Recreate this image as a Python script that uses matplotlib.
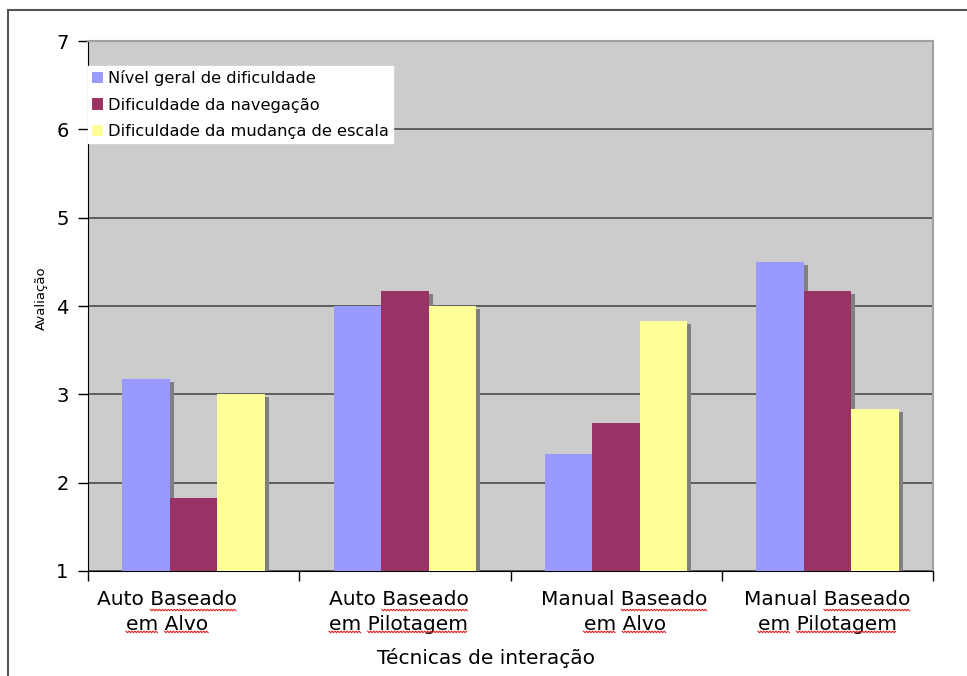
import matplotlib
matplotlib.use('Agg')
import matplotlib.pyplot as plt
from matplotlib.patches import Rectangle, Patch
from matplotlib.lines import Line2D
import numpy as np

categories = ['Auto Baseado\nem Alvo', 'Auto Baseado\nem Pilotagem',
              'Manual Baseado\nem Alvo', 'Manual Baseado\nem Pilotagem']
series_names = ['Nível geral de dificuldade', 'Dificuldade da navegação',
                'Dificuldade da mudança de escala']
nivel_geral = [3.17, 4.0, 2.33, 4.5]
navegacao = [1.83, 4.17, 2.67, 4.17]
mudanca_escala = [3.0, 4.0, 3.83, 2.83]
colors = ['#9999ff', '#993366', '#ffff99']

# words that get the red spell-check squiggle
squiggle_words = ['Baseado', 'em', 'Alvo', 'Pilotagem']

plt.rcParams['font.family'] = 'DejaVu Sans'

fig = plt.figure(figsize=(9.67, 6.76), dpi=100)
ax = fig.add_axes([88/967, 1 - 571/676, 845/967, 530/676])
ax.set_facecolor('#cccccc')

# outer frame of the chart area
fig.patches.append(Rectangle((8/967, -0.05), 1.1, 0.05 + 1 - 10/676, transform=fig.transFigure,
                             fill=False, edgecolor='#555555', linewidth=1.5, clip_on=False))

x = np.arange(len(categories))
w = 0.225
dx = 4/211
dy = 3/88.3
all_vals = [nivel_geral, navegacao, mudanca_escala]

# shadows first
for i, vals in enumerate(all_vals):
    v = np.array(vals)
    ax.bar(x + (i - 1)*w + dx, v - 1 - dy, w, bottom=1, color='#808080', zorder=2)
for i, vals in enumerate(all_vals):
    v = np.array(vals)
    ax.bar(x + (i - 1)*w, v - 1, w, bottom=1, color=colors[i], zorder=3, label=series_names[i])

ax.set_ylim(1, 7)
ax.set_xlim(-0.5, 3.5)
ax.set_yticks(range(1, 8))
ax.yaxis.grid(True, color='#555555', linewidth=1.3, zorder=1)
ax.set_axisbelow(True)
ax.tick_params(axis='y', labelsize=14, length=7, width=1, pad=7)

ax.set_xticks(np.arange(-0.5, 4, 1))
ax.set_xticklabels([])
ax.tick_params(axis='x', which='major', length=7, width=1)
label_offsets = [-0.126, -0.03, 0.04, 0.0]
ax.set_xticks(x + np.array(label_offsets), minor=True)
ax.set_xticklabels(categories, minor=True, fontsize=14.5, linespacing=1.38)
ax.tick_params(axis='x', which='minor', length=0, pad=14)

ax.set_xlabel('Técnicas de interação', fontsize=14.5)
ax.xaxis.set_label_coords(0.471, -0.145)
ax.set_ylabel('Avaliação', fontsize=9.5)
ax.yaxis.set_label_coords(-0.048, 0.515)

for s in ['top', 'right']:
    ax.spines[s].set_color('#a0a0a0')
    ax.spines[s].set_linewidth(1.5)
ax.spines['left'].set_color('black')
ax.spines['bottom'].set_color('black')

handles = [Patch(facecolor=c, edgecolor='none') for c in colors]
leg = ax.legend(handles, series_names, loc='upper left', bbox_to_anchor=(0.0, 0.953),
                fontsize=11.7, frameon=True, fancybox=False, framealpha=1,
                handlelength=0.7, handleheight=0.7, handletextpad=0.3,
                labelspacing=0.72, borderpad=0.25, borderaxespad=0)
leg.get_frame().set_facecolor('white')
leg.get_frame().set_edgecolor('white')
leg.set_zorder(5)

# red squiggly underlines under the category label words
fig.canvas.draw()
renderer = fig.canvas.get_renderer()


def text_width(s, ref):
    t = fig.text(0, 0, s, fontproperties=ref.get_fontproperties())
    wd = t.get_window_extent(renderer).width
    t.remove()
    return wd


inv = fig.transFigure.inverted()
for lab in ax.get_xticklabels(minor=True):
    bb = lab.get_window_extent(renderer)
    lines = lab.get_text().split('\n')
    lh = bb.height / len(lines)
    for li, line in enumerate(lines):
        lw = text_width(line, lab)
        x0 = bb.x0 + (bb.width - lw) / 2
        base = bb.y1 - (li + 1) * lh + 3
        words = line.split(' ')
        for wi, word in enumerate(words):
            if word not in squiggle_words:
                continue
            prefix = ' '.join(words[:wi]) + (' ' if wi > 0 else '')
            sx = x0 + (text_width(prefix, lab) if prefix else 0)
            ex = sx + text_width(word, lab)
            xs = np.arange(sx, ex + 0.1, 1.5)
            ys = base + np.where(np.arange(len(xs)) % 2 == 0, 0.0, -1.5)
            pts = inv.transform(np.column_stack([xs, ys]))
            fig.lines.append(Line2D(pts[:, 0], pts[:, 1], transform=fig.transFigure,
                                    color='#e02020', linewidth=0.8))

fig.savefig('out.png', dpi=100)
